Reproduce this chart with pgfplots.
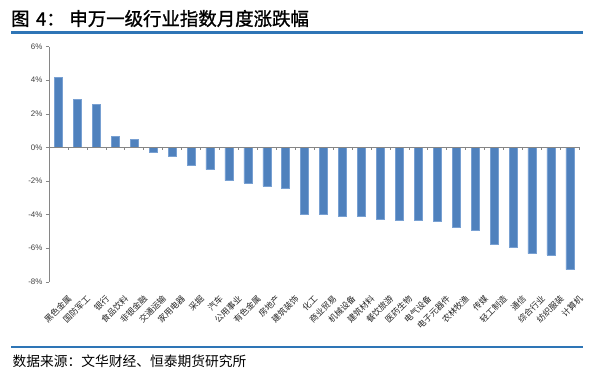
\documentclass[border=0pt]{standalone}
\usepackage{pgfplots}
\pgfplotsset{compat=1.18}
\usepackage{fontspec}
\setmainfont{Liberation Sans}
\newfontfamily\cjk{Noto Sans CJK SC}
\newfontfamily\cjktitle[FakeBold=1.2]{Noto Sans CJK SC}
\definecolor{barblue}{RGB}{79,129,189}
\definecolor{baredge}{RGB}{120,160,210}
\definecolor{ruleblue}{RGB}{46,117,182}
\definecolor{axgray}{RGB}{134,134,134}
\begin{document}
\begin{tikzpicture}
\path[use as bounding box] (0,0) rectangle (595bp,-375bp);
\node[anchor=west, inner sep=0, font=\cjktitle\fontsize{18.5}{20}\selectfont] at (11bp,-18.5bp) {图\hspace{0.35em}4：\hspace{0.25em}申万一级行业指数月度涨跌幅};
\draw[ruleblue, line width=2.2bp] (11bp,-32.5bp) -- (583bp,-32.5bp);
\draw[ruleblue, line width=2.2bp] (11bp,-347bp) -- (583bp,-347bp);
\node[anchor=west, inner sep=0, font=\cjk\fontsize{13.8}{15}\selectfont] at (12.5bp,-361bp) {数据来源：文华财经、恒泰期货研究所};
\begin{axis}[
  at={(49bp,-281.7bp)}, anchor=south west,
  width=530.3bp, height=235.2bp, scale only axis,
  xmin=0.5, xmax=28.5, ymin=-8, ymax=6,
  axis y line=left, axis x line=bottom,
  axis line style={-},
  y axis line style={axgray},
  x axis line style={draw=none},
  ytick={-8,-6,-4,-2,0,2,4,6},
  yticklabels={-8\%,-6\%,-4\%,-2\%,0\%,2\%,4\%,6\%},
  yticklabel style={font=\fontsize{8}{9}\selectfont, text=black!75},
  y tick style={axgray},
  tick align=outside, major tick length=3bp,
  xtick={1,...,28},
  x tick style={draw=none},
  xticklabels={黑色金属,国防军工,银行,食品饮料,非银金融,交通运输,家用电器,采掘,汽车,公用事业,有色金属,房地产,建筑装饰,化工,商业贸易,机械设备,建筑材料,餐饮旅游,医药生物,电气设备,电子元器件,农林牧渔,传媒,轻工制造,通信,综合行业,纺织服装,计算机},
  xticklabel style={font=\cjk\fontsize{8.5}{9}\selectfont, text=black!85, rotate=45, anchor=north east, inner sep=0, yshift=-13bp, xshift=-1bp},
  clip=false,
]
\addplot[ybar, bar width=8bp, fill=barblue, draw=baredge, line width=0.5bp] coordinates {
(1,4.18) (2,2.84) (3,2.54) (4,0.64) (5,0.46) (6,-0.30) (7,-0.54)
(8,-1.07) (9,-1.33) (10,-1.98) (11,-2.12) (12,-2.32) (13,-2.42)
(14,-3.96) (15,-3.99) (16,-4.09) (17,-4.13) (18,-4.27) (19,-4.33)
(20,-4.35) (21,-4.39) (22,-4.75) (23,-4.91) (24,-5.76) (25,-5.97)
(26,-6.33) (27,-6.41) (28,-7.28)
};
\draw[axgray, line width=0.8bp] (axis cs:0.5,0) -- (axis cs:28.5,0);
\pgfplotsinvokeforeach{0.5,1.5,...,28.5}{
  \draw[axgray, line width=0.6bp] (axis cs:#1,0) -- ([yshift=-3bp]axis cs:#1,0);
}
\end{axis}
\end{tikzpicture}
\end{document}
